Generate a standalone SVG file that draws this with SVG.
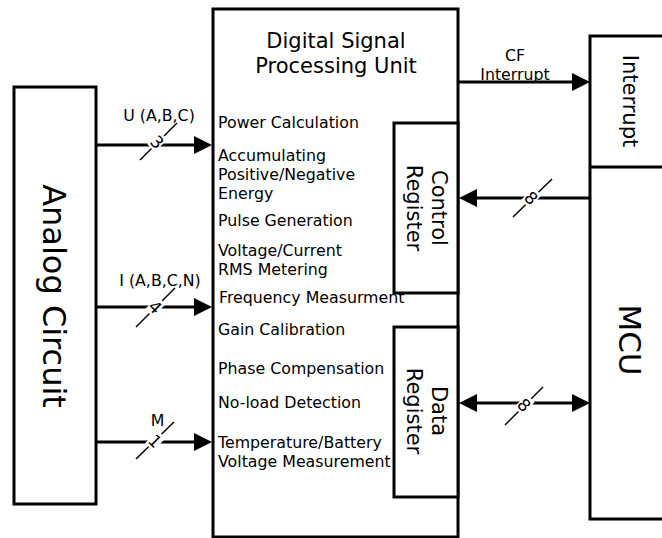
<svg xmlns="http://www.w3.org/2000/svg" width="662" height="538" viewBox="0 0 662 538">
<defs>
<style>
.box{fill:#fff;stroke:#000;stroke-width:3}
.ln{fill:none;stroke:#000;stroke-width:3}
.sl{fill:none;stroke:#000;stroke-width:1.5}
.bg{fill:#fff}
text{font-family:"DejaVu Sans",Verdana,sans-serif;fill:#000}
.sm{font-size:15.8px}
.md{font-size:21px;text-anchor:middle}
.lb{font-size:15.8px;text-anchor:middle}
.dg{font-size:17px;text-anchor:middle}
</style>
<marker id="ah" markerUnits="userSpaceOnUse" markerWidth="18" markerHeight="18" viewBox="0 0 18 18" refX="8" refY="9" orient="auto-start-reverse">
<path d="M0,0 L18,9 L0,18 z" fill="#000"/>
</marker>
</defs>
<rect width="662" height="538" fill="#fff"/>

<g id="analog">
<rect class="box" x="14" y="87" width="82" height="417"/>
<text transform="translate(43,296) rotate(90)" style="font-size:32px;text-anchor:middle">Analog Circuit</text>
</g>

<g id="dsp">
<rect class="box" x="213" y="9" width="245" height="528"/>
<text class="md" x="336" y="48">Digital Signal</text>
<text class="md" x="336" y="73">Processing Unit</text>
<text class="sm" x="218" y="128">Power Calculation</text>
<text class="sm" x="218" y="161">Accumulating</text>
<text class="sm" x="218" y="180">Positive/Negative</text>
<text class="sm" x="218" y="199">Energy</text>
<text class="sm" x="218" y="226">Pulse Generation</text>
<text class="sm" x="218" y="256">Voltage/Current</text>
<text class="sm" x="218" y="275">RMS Metering</text>
<text class="sm" x="219" y="303">Frequency Measurment</text>
<text class="sm" x="218" y="335">Gain Calibration</text>
<text class="sm" x="218" y="374">Phase Compensation</text>
<text class="sm" x="218" y="408">No-load Detection</text>
<text class="sm" x="218" y="448">Temperature/Battery</text>
<text class="sm" x="218" y="467">Voltage Measurement</text>
</g>

<g id="control-register">
<rect class="box" x="394" y="123" width="64" height="170"/>
<text class="md" transform="translate(432,208) rotate(90)">Control</text>
<text class="md" transform="translate(407,208) rotate(90)">Register</text>
</g>

<g id="data-register">
<rect class="box" x="394" y="327" width="64" height="170"/>
<text class="md" transform="translate(432,411) rotate(90)">Data</text>
<text class="md" transform="translate(407,411) rotate(90)">Register</text>
</g>

<g id="mcu">
<rect class="box" x="590" y="36" width="120" height="483"/>
<line class="ln" x1="590" y1="167" x2="680" y2="167"/>
<text class="md" transform="translate(623,101) rotate(90)">Interrupt</text>
<text transform="translate(619,340) rotate(90)" style="font-size:31px;text-anchor:middle">MCU</text>
</g>

<g id="connectors">
<line class="ln" x1="96" y1="145" x2="202" y2="145" marker-end="url(#ah)"/>
<line class="sl" x1="140" y1="160" x2="177" y2="123"/>
<g transform="translate(157,142) rotate(45)"><rect class="bg" x="-5.5" y="-9.5" width="11" height="18"/><text class="dg" x="0" y="6">3</text></g>
<text class="lb" x="159" y="121">U (A,B,C)</text>

<line class="ln" x1="96" y1="307" x2="202" y2="307" marker-end="url(#ah)"/>
<line class="sl" x1="136" y1="327" x2="175" y2="288"/>
<g transform="translate(155,307) rotate(45)"><rect class="bg" x="-5.5" y="-9.5" width="11" height="18"/><text class="dg" x="0" y="6">4</text></g>
<text class="lb" x="160" y="286">I (A,B,C,N)</text>

<line class="ln" x1="96" y1="442" x2="202" y2="442" marker-end="url(#ah)"/>
<line class="sl" x1="136" y1="459" x2="174" y2="422"/>
<g transform="translate(155,441) rotate(45)"><rect class="bg" x="-5.5" y="-9.5" width="11" height="18"/><text class="dg" x="0" y="6">1</text></g>
<text class="lb" x="157.5" y="426">M</text>

<line class="ln" x1="458" y1="82" x2="580" y2="82" marker-end="url(#ah)"/>
<text class="lb" x="515" y="61">CF</text>
<text class="lb" x="515" y="80">Interrupt</text>

<line class="ln" x1="590" y1="198" x2="469" y2="198" marker-end="url(#ah)"/>
<line class="sl" x1="513" y1="217" x2="552" y2="179"/>
<g transform="translate(531,198) rotate(45)"><rect class="bg" x="-5.5" y="-9.5" width="11" height="18"/><text class="dg" x="0" y="6">8</text></g>

<line class="ln" x1="469" y1="403" x2="580" y2="403" marker-start="url(#ah)" marker-end="url(#ah)"/>
<line class="sl" x1="505" y1="425" x2="543" y2="387"/>
<g transform="translate(524,405) rotate(45)"><rect class="bg" x="-5.5" y="-9.5" width="11" height="18"/><text class="dg" x="0" y="6">8</text></g>
</g>
</svg>
